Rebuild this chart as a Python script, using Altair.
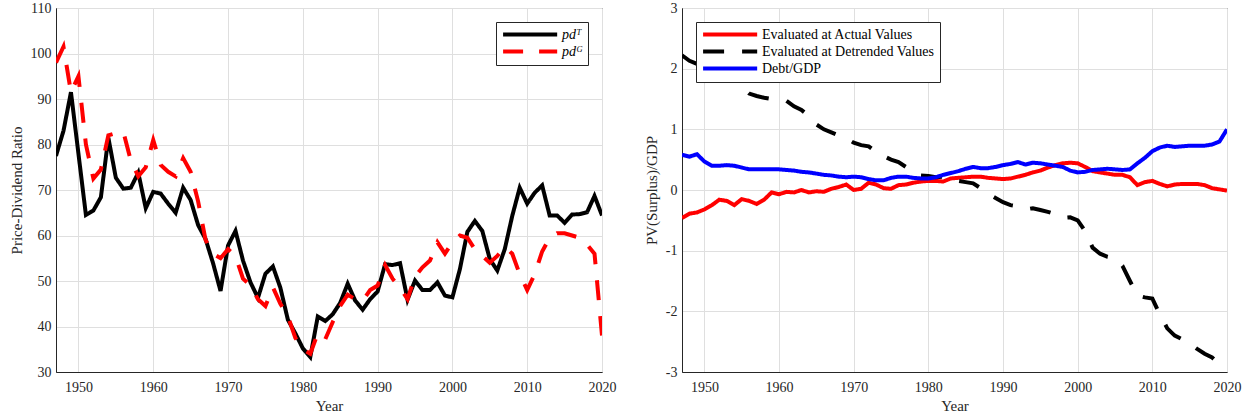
import altair as alt
import pandas as pd

years = list(range(1947, 2021))

pd_T = [77.5, 83, 91.5, 78, 64.5, 65.5, 68.4, 81.5, 72.7, 70.3,
        70.5, 73.8, 66, 69.6, 69.2, 67, 65, 70.5, 67.8, 62.3,
        59.2, 53.9, 47.8, 57.8, 61, 54.5, 49.7, 46.3, 51.6, 53.2,
        48.5, 41.5, 38.5, 35.2, 33.3, 42.2, 41.2, 42.7, 45.2, 49.4,
        45.7, 43.7, 46, 47.7, 53.7, 53.5, 53.9, 45.9, 50.1, 48,
        48, 49.7, 46.8, 46.4, 52.6, 60.8, 63.2, 61, 54.8, 52.3,
        57, 64.3, 70.5, 67, 69.4, 71, 64.4, 64.4, 62.8, 64.6,
        64.7, 65.1, 68.7, 64.4]

pd_G = [98, 101.5, 91.5, 95, 80, 72.5, 74.5, 82, 82.5, 82.8,
        76.5, 73, 75, 81, 75.5, 74, 73, 77, 74, 67.5,
        59, 56, 55, 57, 55.5, 50.5, 49, 46, 44.5, 48.6,
        45, 42.3, 37.5, 35, 34, 38.5, 37.2, 41, 44.5, 47,
        46, 45.7, 48, 49, 53.5, 50.5, 48.5, 46, 51, 53,
        54.5, 58.5, 56, 58.5, 60, 59.5, 57, 55.5, 54, 55.5,
        57.5, 56, 51.5, 48, 51.5, 56.5, 59.5, 60.5, 60.5, 60,
        59.5, 58, 56, 38]

actual = [-0.46, -0.39, -0.37, -0.32, -0.25, -0.16, -0.18, -0.25, -0.15, -0.18,
          -0.23, -0.16, -0.04, -0.07, -0.03, -0.04, 0.0, -0.04, -0.02, -0.03,
          0.02, 0.05, 0.09, 0.0, 0.02, 0.12, 0.09, 0.03, 0.02, 0.08,
          0.09, 0.12, 0.14, 0.15, 0.15, 0.14, 0.19, 0.2, 0.21, 0.22,
          0.22, 0.2, 0.19, 0.18, 0.19, 0.22, 0.25, 0.29, 0.32, 0.37,
          0.41, 0.44, 0.45, 0.44, 0.38, 0.31, 0.29, 0.27, 0.25, 0.25,
          0.21, 0.08, 0.13, 0.15, 0.1, 0.06, 0.09, 0.1, 0.1, 0.1,
          0.08, 0.03, 0.01, -0.01]

detrended = [2.22, 2.13, 2.08, 2.00, 1.94, 1.88, 1.88, 1.80, 1.70, 1.59,
             1.55, 1.52, 1.50, 1.49, 1.47, 1.38, 1.32, 1.22, 1.08, 1.00,
             0.95, 0.90, 0.85, 0.78, 0.74, 0.72, 0.63, 0.56, 0.50, 0.46,
             0.38, 0.28, 0.24, 0.23, 0.21, 0.22, 0.20, 0.15, 0.13, 0.11,
             0.03, -0.06, -0.13, -0.20, -0.25, -0.27, -0.32, -0.30, -0.33, -0.36,
             -0.40, -0.46, -0.45, -0.50, -0.68, -0.95, -1.05, -1.10, -1.12, -1.25,
             -1.50, -1.74, -1.77, -1.79, -2.05, -2.28, -2.40, -2.46, -2.53, -2.62,
             -2.70, -2.76, -2.88, -2.97]

debt_gdp = [0.58, 0.55, 0.59, 0.47, 0.40, 0.40, 0.41, 0.40, 0.37, 0.34,
            0.34, 0.34, 0.34, 0.34, 0.33, 0.32, 0.30, 0.29, 0.27, 0.25,
            0.24, 0.22, 0.21, 0.22, 0.21, 0.18, 0.16, 0.16, 0.20, 0.22,
            0.22, 0.20, 0.19, 0.19, 0.21, 0.25, 0.28, 0.31, 0.35, 0.38,
            0.36, 0.36, 0.38, 0.41, 0.43, 0.46, 0.42, 0.45, 0.44, 0.42,
            0.40, 0.38, 0.32, 0.29, 0.30, 0.33, 0.34, 0.35, 0.34, 0.33,
            0.34, 0.44, 0.53, 0.64, 0.70, 0.73, 0.71, 0.72, 0.73, 0.73,
            0.73, 0.75, 0.80, 1.00]

left_names = ["pd\u1d40", "pd\u1d33"]
right_names = ["Evaluated at Actual Values", "Evaluated at Detrended Values", "Debt/GDP"]
x_ticks = [1950, 1960, 1970, 1980, 1990, 2000, 2010, 2020]
left_y_ticks = [30, 40, 50, 60, 70, 80, 90, 100, 110]
right_y_ticks = [-3, -2, -1, 0, 1, 2, 3]

n = len(years)
left_df = pd.DataFrame({
    "Year": years * 2,
    "value": pd_T + pd_G,
    "series": [left_names[0]] * n + [left_names[1]] * n,
})
right_df = pd.DataFrame({
    "Year": years * 3,
    "value": actual + detrended + debt_gdp,
    "series": [right_names[0]] * n + [right_names[1]] * n + [right_names[2]] * n,
})

FONT = "Liberation Serif"
TXT = "#262626"

x_enc = alt.X("Year:Q",
              scale=alt.Scale(domain=[1947, 2020], nice=False, zero=False),
              axis=alt.Axis(values=x_ticks, format="d", title="Year", labelFlush=False,
                            labelPadding=8, titlePadding=4))

# long horizontal legend stroke: path spans -1..9 in symbol units (r = sqrt(size)/2)
common_legend = dict(
    title=None, symbolType="M-1,0H9", symbolSize=117, symbolStrokeWidth=4,
    strokeColor=TXT, fillColor="white", padding=5, labelFont=FONT,
    labelFontSize=14, labelColor="black", rowPadding=0, labelOffset=46,
    labelLimit=400, cornerRadius=0, offset=14,
)

left = alt.Chart(left_df).mark_line(strokeWidth=4, clip=True).encode(
    x=x_enc,
    y=alt.Y("value:Q",
            scale=alt.Scale(domain=[30, 110], nice=False, zero=False),
            axis=alt.Axis(values=left_y_ticks, title="Price-Dividend Ratio", titlePadding=6,
                          labelExpr="'' + datum.value")),
    color=alt.Color("series:N",
                    scale=alt.Scale(domain=left_names, range=["black", "#ff0000"]),
                    sort=left_names,
                    legend=alt.Legend(orient="top-right", labelFontStyle="italic", **common_legend)),
    strokeDash=alt.StrokeDash("series:N",
                              scale=alt.Scale(domain=left_names, range=[[1, 0], [20, 16]]),
                              sort=left_names,
                              legend=alt.Legend(orient="top-right", labelFontStyle="italic", **common_legend)),
).properties(width=546, height=364)

right = alt.Chart(right_df).mark_line(strokeWidth=4, clip=True).encode(
    x=x_enc,
    y=alt.Y("value:Q",
            scale=alt.Scale(domain=[-3, 3], nice=False, zero=False),
            axis=alt.Axis(values=right_y_ticks, title="PV(Surplus)/GDP", titlePadding=6,
                          labelExpr="'' + datum.value")),
    color=alt.Color("series:N",
                    scale=alt.Scale(domain=right_names, range=["#ff0000", "black", "#0000ff"]),
                    sort=right_names,
                    legend=alt.Legend(orient="top-left", **common_legend)),
    strokeDash=alt.StrokeDash("series:N",
                              scale=alt.Scale(domain=right_names, range=[[1, 0], [21, 18], [1, 0]]),
                              sort=right_names,
                              legend=alt.Legend(orient="top-left", **common_legend)),
).properties(width=545, height=364)

chart = alt.hconcat(left, right, spacing=26).resolve_scale(
    color="independent", strokeDash="independent"
).properties(
    padding={"left": 8, "top": 0, "right": 5, "bottom": 5}
).configure(
    font=FONT,
).configure_view(
    stroke=TXT, strokeWidth=1,
).configure_axis(
    labelFont=FONT, titleFont=FONT, labelFontSize=14, titleFontSize=15,
    labelColor=TXT, titleColor=TXT, titleFontWeight="normal",
    domainColor=TXT, ticks=False, labelPadding=6,
    grid=True, gridColor="#dfdfdf", gridWidth=1,
).configure_axisY(labelPadding=5)

chart.save("out.html", embed_options={"renderer": "svg", "actions": False})
